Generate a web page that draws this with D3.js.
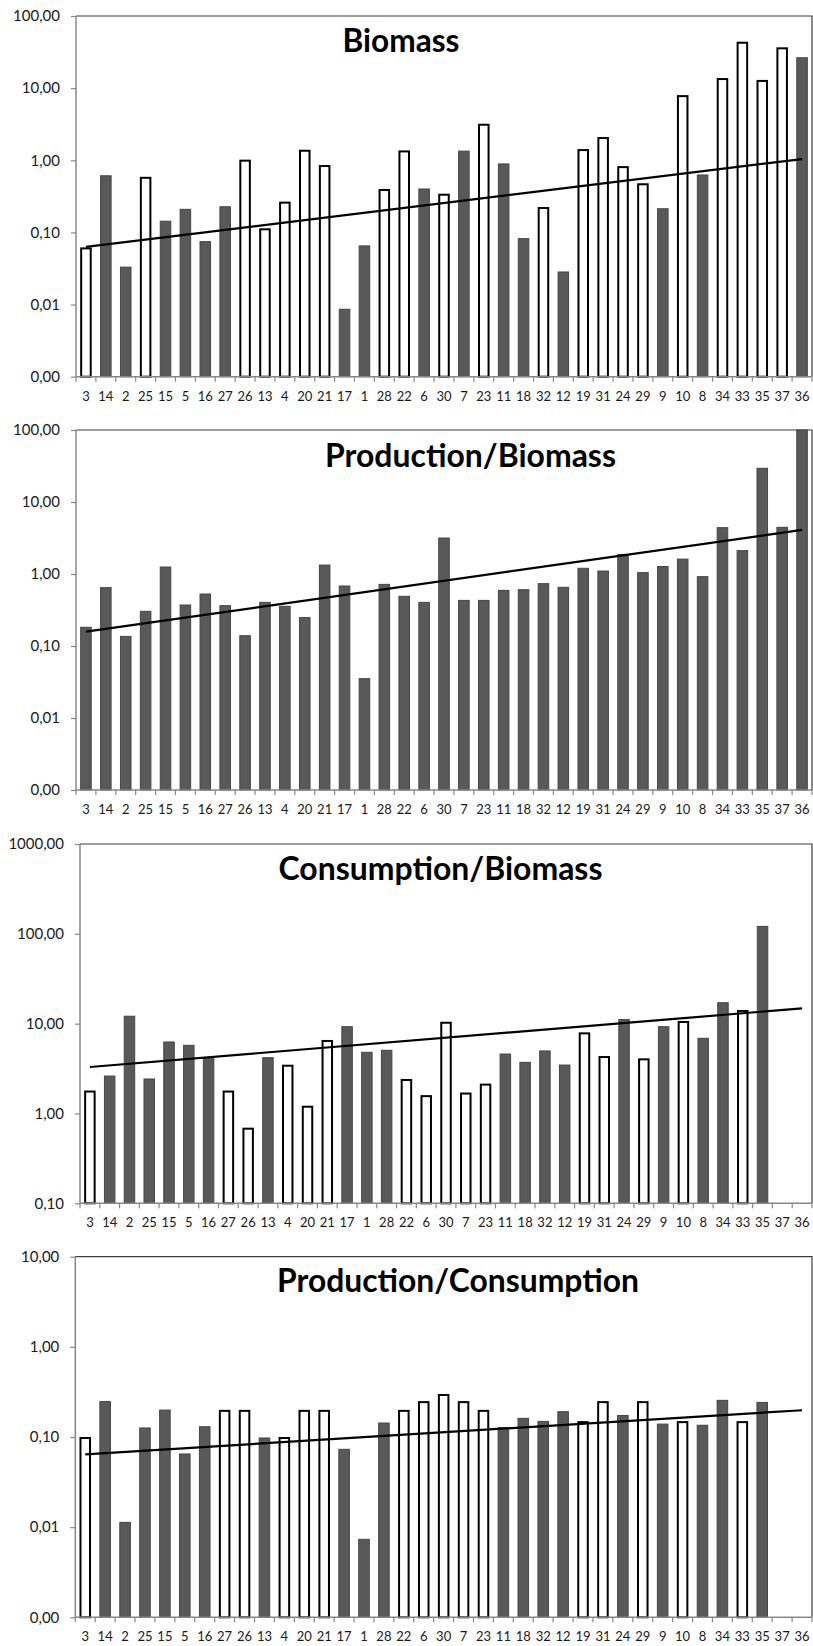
<!DOCTYPE html>
<html>
<head>
<meta charset="utf-8">
<script src="https://cdn.jsdelivr.net/npm/d3@7"></script>
<style>
  html, body { margin: 0; padding: 0; background: #fff; }
  svg { display: block; }
</style>
</head>
<body>
<svg id="chart" width="813" height="1646"></svg>
<script>
// ---------- DATA ----------
const categories = ["3","14","2","25","15","5","16","27","26","13","4","20","21","17","1","28","22","6","30","7","23","11","18","32","12","19","31","24","29","9","10","8","34","33","35","37","36"];

// 1 = hollow (white) bar, 0 = filled (dark) bar
const biomass = [0.062,0.61,0.033,0.59,0.143,0.209,0.0745,0.227,1.02,0.114,0.267,1.40,0.86,0.0086,0.065,0.40,1.37,0.40,0.344,1.34,3.21,0.89,0.082,0.225,0.0283,1.43,2.10,0.83,0.48,0.213,8.0,0.625,13.8,44,13.0,36.8,26.4];
const biomassHollow = [1,0,0,1,0,0,0,0,1,1,1,1,1,0,0,1,1,0,1,0,1,0,0,1,0,1,1,1,1,0,1,0,1,1,1,1,0];
const biomassTrend = [0.063, 1.04];

const prodBiomass = [0.182,0.646,0.136,0.303,1.25,0.371,0.527,0.363,0.139,0.404,0.356,0.248,1.33,0.681,0.0352,0.718,0.49,0.404,3.16,0.43,0.43,0.593,0.605,0.734,0.653,1.20,1.10,1.87,1.045,1.27,1.61,0.918,4.40,2.11,29.4,4.45,100];
const prodBiomassHollow = [0,0,0,0,0,0,0,0,0,0,0,0,0,0,0,0,0,0,0,0,0,0,0,0,0,0,0,0,0,0,0,0,0,0,0,0,0];
const prodBiomassTrend = [0.158, 4.09];

const consBiomass = [1.80,2.61,12.1,2.42,6.25,5.74,4.08,1.80,0.695,4.18,3.49,1.22,6.58,9.25,4.80,5.05,2.42,1.60,10.5,1.71,2.15,4.59,3.71,4.97,3.46,8.0,4.36,11.1,4.11,9.25,10.7,6.87,17.1,14.2,121,null,null];
const consBiomassHollow = [1,0,0,0,0,0,0,1,1,0,1,1,1,0,0,0,1,1,1,1,1,0,0,0,0,1,1,0,1,0,1,0,0,1,0,0,0];
const consBiomassTrend = [3.29, 14.8];

const prodCons = [0.100,0.247,0.0113,0.126,0.199,0.0648,0.130,0.20,0.20,0.0975,0.10,0.20,0.20,0.073,0.00733,0.143,0.20,0.25,0.30,0.25,0.20,0.127,0.161,0.149,0.191,0.150,0.25,0.173,0.25,0.139,0.150,0.135,0.255,0.150,0.242,null,null];
const prodConsHollow = [1,0,0,0,0,0,0,1,1,0,1,1,1,0,0,0,1,1,1,1,1,0,0,0,0,1,1,0,1,0,1,0,0,1,0,0,0];
const prodConsTrend = [0.0643, 0.198];

const ticks5 = [0.001, 0.01, 0.1, 1, 10, 100];
const ticksCB = [0.1, 1, 10, 100, 1000];
const ticksPC = [0.001, 0.01, 0.1, 1, 10];

const titles = ["Biomass", "Production/Biomass", "Consumption/Biomass", "Production/Consumption"];

// ---------- LAYOUT ----------
const panels = [
  { title: titles[0], values: biomass, hollow: biomassHollow, trend: biomassTrend, ticks: ticks5,
    left: 76, right: 812, top: 16, bottom: 376.7, titleX: 401, titleY: 52, titleW: 117 },
  { title: titles[1], values: prodBiomass, hollow: prodBiomassHollow, trend: prodBiomassTrend, ticks: ticks5,
    left: 76, right: 812, top: 430, bottom: 790, titleX: 470.5, titleY: 466.5, titleW: 291 },
  { title: titles[2], values: consBiomass, hollow: consBiomassHollow, trend: consBiomassTrend, ticks: ticksCB,
    left: 80, right: 812, top: 844, bottom: 1203.3, titleX: 440.5, titleY: 880, titleW: 324 },
  { title: titles[3], values: prodCons, hollow: prodConsHollow, trend: prodConsTrend, ticks: ticksPC,
    left: 75.3, right: 812, top: 1256.7, bottom: 1617.3, titleX: 458, titleY: 1291.5, titleW: 362 }
];

const svg = d3.select("#chart");
const fmt = v => d3.format(".2f")(v).replace(".", ",");
const axisGray = "#878787";
const FONT = "Lato, 'Open Sans', sans-serif";

panels.forEach(p => {
  const g = svg.append("g");
  const x = d3.scaleBand().domain(categories).range([p.left, p.right])
    .paddingInner(0.47).paddingOuter(0.235);
  const y = d3.scaleLog().domain([p.ticks[0], p.ticks[p.ticks.length - 1]]).range([p.bottom, p.top]);

  // frame top + right
  g.append("path")
    .attr("d", `M${p.left},${p.top}H${p.right}V${p.bottom}`)
    .attr("fill", "none").attr("stroke", "#3c3c3c").attr("stroke-width", 1.2);

  // bars
  const data = categories.map((c, i) => ({ c, v: p.values[i], h: p.hollow[i] }))
    .filter(d => d.v != null);
  g.selectAll("rect.bar").data(data).join("rect")
    .attr("class", "bar")
    .attr("x", d => x(d.c) + (d.h ? 0.5 : 0))
    .attr("width", d => x.bandwidth() - (d.h ? 1 : 0))
    .attr("y", d => y(Math.min(d.v, y.domain()[1])) + (d.h ? 1 : 0))
    .attr("height", d => p.bottom - y(Math.min(d.v, y.domain()[1])) - (d.h ? 1 : 0))
    .attr("fill", d => d.h ? "#ffffff" : "#595959")
    .attr("stroke", d => d.h ? "#000000" : "#454545")
    .attr("stroke-width", d => d.h ? 2 : 1);

  // left axis
  const yAxis = d3.axisLeft(y).tickValues(p.ticks).tickSize(5).tickPadding(11).tickFormat(fmt);
  const ya = g.append("g").attr("transform", `translate(${p.left},0)`).call(yAxis);
  ya.select(".domain").attr("stroke", axisGray).attr("stroke-width", 1.5).attr("d", `M-0,${p.bottom}V${p.top}`);
  ya.selectAll(".tick line").attr("stroke", axisGray).attr("stroke-width", 1.2);
  ya.selectAll(".tick text").attr("font-family", FONT).attr("font-size", 15).attr("fill", "#1a1a1a");

  // bottom axis
  const xAxis = d3.axisBottom(x).tickSize(0).tickPadding(18);
  const xa = g.append("g").attr("transform", `translate(0,${p.bottom})`).call(xAxis);
  xa.select(".domain").attr("stroke", axisGray).attr("stroke-width", 1.5).attr("d", `M${p.left},0H${p.right}`);
  xa.selectAll(".tick text").attr("font-family", FONT).attr("font-size", 13).attr("fill", "#1a1a1a")
    .attr("dy", "0.45em");
  // category boundary ticks
  const bounds = categories.map(c => x(c) - x.step() * x.paddingOuter()).concat([p.right]);
  xa.selectAll("line.sep").data(bounds).join("line")
    .attr("class", "sep")
    .attr("x1", d => d).attr("x2", d => d).attr("y1", 0).attr("y2", 5)
    .attr("stroke", axisGray).attr("stroke-width", 1.2);

  // trend line
  const xc = c => x(c) + x.bandwidth() / 2;
  g.append("line")
    .attr("x1", xc(categories[0])).attr("y1", y(p.trend[0]))
    .attr("x2", xc(categories[categories.length - 1])).attr("y2", y(p.trend[1]))
    .attr("stroke", "#000").attr("stroke-width", 2.2);

  // title
  const t = g.append("text")
    .attr("x", p.titleX).attr("y", p.titleY)
    .attr("text-anchor", "middle")
    .attr("font-family", FONT).attr("font-weight", "bold").attr("font-size", 28)
    .attr("fill", "#000")
    .text(p.title);
  const w = t.node().getComputedTextLength();
  if (w > 0) t.attr("font-size", 28 * p.titleW / w);
});
</script>
</body>
</html>
